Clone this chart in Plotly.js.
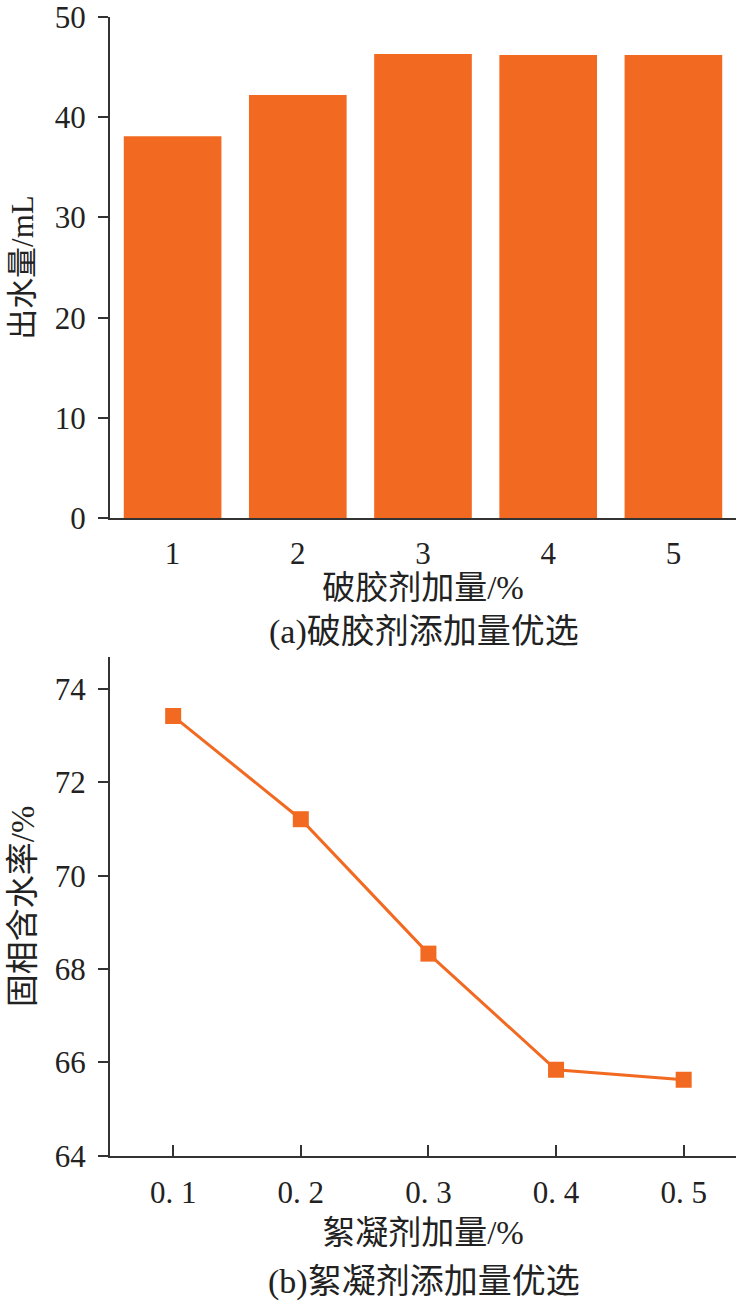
<!DOCTYPE html>
<html>
<head>
<meta charset="utf-8">
<script src="https://cdn.plot.ly/plotly-3.0.1.min.js"></script>
<style>html,body{margin:0;padding:0;background:#fff;}#chart{width:736px;height:1301px;}</style>
</head>
<body>
<div id="chart"></div>
<script>
// Panel (a): demulsifier dosage vs water output
var breakerDose = [1, 2, 3, 4, 5];
var waterOutput = [38.1, 42.2, 46.3, 46.2, 46.2];
// Panel (b): flocculant dosage vs solid-phase moisture content
var flocDose = [0.1, 0.2, 0.3, 0.4, 0.5];
var flocTickText = ['0. 1', '0. 2', '0. 3', '0. 4', '0. 5'];
var moisture = [73.42, 71.21, 68.33, 65.84, 65.63];

var orange = '#F26A21';
var axisColor = '#333333';
var serif = 'Liberation Serif, Noto Sans CJK SC, serif';
var cjk = 'Liberation Serif, Noto Sans CJK SC, sans-serif';

var traces = [
  {
    type: 'bar', x: breakerDose, y: waterOutput,
    xaxis: 'x', yaxis: 'y', width: 0.78,
    marker: {color: orange, line: {width: 0}},
    hoverinfo: 'x+y'
  },
  {
    type: 'scatter', mode: 'lines+markers', x: flocDose, y: moisture,
    xaxis: 'x2', yaxis: 'y2',
    line: {color: orange, width: 3},
    marker: {symbol: 'square', size: 16, color: orange}
  }
];

var xdom = [110/736, 1];
var layout = {
  width: 736, height: 1301,
  margin: {l: 0, r: 0, t: 0, b: 0},
  paper_bgcolor: '#fff', plot_bgcolor: '#fff',
  showlegend: false,
  font: {family: serif, color: '#222', size: 30},
  xaxis: {
    domain: xdom, anchor: 'y', range: [0.5, 5.5],
    tickvals: breakerDose, ticktext: breakerDose.map(String),
    ticks: '', showgrid: false, zeroline: false,
    showline: true, linecolor: axisColor, linewidth: 2,
    tickfont: {family: serif, size: 31, color: '#222'},
    ticklabelstandoff: 6,
    title: {text: '破胶剂加量/%', font: {family: cjk, size: 33, color: '#222'}, standoff: 2}
  },
  yaxis: {
    domain: [(1301-518.3)/1301, (1301-16.8)/1301], anchor: 'x', range: [0, 50],
    tickvals: [0, 10, 20, 30, 40, 50],
    ticks: 'outside', ticklen: 10, tickwidth: 2, tickcolor: axisColor,
    showgrid: false, zeroline: false,
    showline: true, linecolor: axisColor, linewidth: 2,
    tickfont: {family: serif, size: 31, color: '#222'},
    ticklabelstandoff: 6, ticklabeloverflow: 'allow',
    title: {text: '出水量/mL', font: {family: cjk, size: 31, color: '#222'}, standoff: 12}
  },
  xaxis2: {
    domain: xdom, anchor: 'y2', range: [0.0505, 0.541],
    tickvals: flocDose, ticktext: flocTickText,
    ticks: 'inside', ticklen: 11, tickwidth: 2, tickcolor: axisColor,
    showgrid: false, zeroline: false,
    showline: true, linecolor: axisColor, linewidth: 2,
    tickfont: {family: serif, size: 31, color: '#222'},
    ticklabelstandoff: 8,
    title: {text: '絮凝剂加量/%', font: {family: cjk, size: 33, color: '#222'}, standoff: 12}
  },
  yaxis2: {
    domain: [(1301-1155.7)/1301, (1301-657)/1301], anchor: 'x2', range: [64, 74.686],
    tickvals: [64, 66, 68, 70, 72, 74],
    ticks: 'outside', ticklen: 10, tickwidth: 2, tickcolor: axisColor,
    showgrid: false, zeroline: false,
    showline: true, linecolor: axisColor, linewidth: 2,
    tickfont: {family: serif, size: 31, color: '#222'},
    ticklabelstandoff: 6, ticklabeloverflow: 'allow',
    title: {text: '固相含水率/%', font: {family: cjk, size: 33, color: '#222'}, standoff: 10}
  },
  annotations: [
    {text: '(a)破胶剂添加量优选', xref: 'paper', yref: 'paper', x: (424)/736, y: (1301-632)/1301,
     xanchor: 'center', yanchor: 'middle', showarrow: false, font: {family: cjk, size: 34, color: '#222'}},
    {text: '(b)絮凝剂添加量优选', xref: 'paper', yref: 'paper', x: (424)/736, y: (1301-1282)/1301,
     xanchor: 'center', yanchor: 'middle', showarrow: false, font: {family: cjk, size: 34, color: '#222'}}
  ]
};

Plotly.newPlot('chart', traces, layout, {staticPlot: true, displayModeBar: false});
</script>
</body>
</html>
